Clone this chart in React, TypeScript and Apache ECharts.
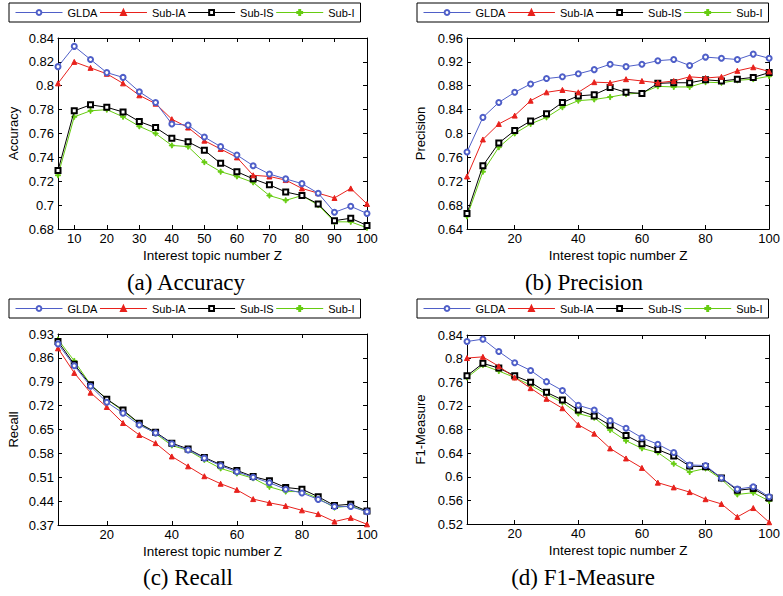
import React, { useEffect, useRef } from "react";
import * as echarts from "echarts";

const topicZ = [5, 10, 15, 20, 25, 30, 35, 40, 45, 50, 55, 60, 65, 70, 75, 80, 85, 90, 95, 100];
const methods = ["GLDA", "Sub-IA", "Sub-IS", "Sub-I"];

// (a) Accuracy
const accGLDA = [0.816, 0.833, 0.822, 0.811, 0.807, 0.795, 0.786, 0.768, 0.767, 0.757, 0.749, 0.742, 0.733, 0.726, 0.722, 0.718, 0.710, 0.694, 0.699, 0.693];
const accSubIA = [0.802, 0.820, 0.815, 0.810, 0.802, 0.792, 0.785, 0.772, 0.765, 0.754, 0.747, 0.740, 0.725, 0.724, 0.721, 0.714, 0.710, 0.706, 0.714, 0.701];
const accSubIS = [0.729, 0.779, 0.784, 0.782, 0.778, 0.770, 0.765, 0.756, 0.753, 0.746, 0.735, 0.728, 0.722, 0.717, 0.711, 0.708, 0.701, 0.687, 0.689, 0.683];
const accSubI = [0.725, 0.774, 0.779, 0.780, 0.774, 0.766, 0.760, 0.750, 0.749, 0.736, 0.728, 0.724, 0.719, 0.708, 0.704, 0.708, 0.700, 0.686, 0.686, 0.681];

// (b) Precision
const preGLDA = [0.769, 0.827, 0.852, 0.869, 0.883, 0.892, 0.895, 0.900, 0.907, 0.916, 0.912, 0.916, 0.922, 0.924, 0.914, 0.928, 0.926, 0.924, 0.933, 0.926];
const preSubIA = [0.728, 0.790, 0.816, 0.830, 0.855, 0.869, 0.873, 0.869, 0.886, 0.885, 0.891, 0.888, 0.885, 0.888, 0.895, 0.893, 0.895, 0.905, 0.911, 0.904];
const preSubIS = [0.666, 0.746, 0.784, 0.805, 0.821, 0.833, 0.852, 0.863, 0.865, 0.877, 0.869, 0.867, 0.884, 0.885, 0.885, 0.890, 0.888, 0.891, 0.894, 0.902];
const preSubI = [0.661, 0.736, 0.777, 0.800, 0.816, 0.827, 0.844, 0.855, 0.857, 0.861, 0.866, 0.868, 0.879, 0.878, 0.878, 0.886, 0.885, 0.889, 0.891, 0.896];

// (c) Recall
const recGLDA = [0.901, 0.837, 0.777, 0.730, 0.698, 0.663, 0.640, 0.608, 0.590, 0.566, 0.544, 0.526, 0.510, 0.494, 0.475, 0.464, 0.445, 0.424, 0.424, 0.409];
const recSubIA = [0.888, 0.816, 0.758, 0.716, 0.669, 0.634, 0.610, 0.571, 0.542, 0.513, 0.491, 0.473, 0.446, 0.435, 0.426, 0.413, 0.402, 0.380, 0.391, 0.372];
const recSubIS = [0.908, 0.841, 0.781, 0.739, 0.707, 0.668, 0.642, 0.610, 0.593, 0.568, 0.547, 0.530, 0.512, 0.500, 0.480, 0.475, 0.453, 0.427, 0.431, 0.411];
const recSubI = [0.914, 0.851, 0.782, 0.739, 0.704, 0.667, 0.638, 0.603, 0.589, 0.561, 0.536, 0.521, 0.507, 0.482, 0.468, 0.468, 0.448, 0.421, 0.426, 0.409];

// (d) F1-Measure
const f1GLDA = [0.829, 0.833, 0.812, 0.793, 0.780, 0.761, 0.746, 0.721, 0.713, 0.695, 0.682, 0.666, 0.655, 0.641, 0.620, 0.619, 0.598, 0.579, 0.583, 0.566];
const f1SubIA = [0.801, 0.803, 0.787, 0.768, 0.750, 0.732, 0.716, 0.688, 0.673, 0.648, 0.631, 0.615, 0.590, 0.582, 0.574, 0.562, 0.554, 0.532, 0.547, 0.523];
const f1SubIS = [0.771, 0.792, 0.784, 0.771, 0.760, 0.743, 0.730, 0.713, 0.703, 0.687, 0.670, 0.656, 0.646, 0.635, 0.618, 0.617, 0.598, 0.577, 0.580, 0.564];
const f1SubI = [0.768, 0.789, 0.779, 0.768, 0.755, 0.740, 0.726, 0.707, 0.700, 0.679, 0.661, 0.648, 0.641, 0.622, 0.608, 0.614, 0.596, 0.570, 0.573, 0.559];

const accTicksY = [0.68, 0.7, 0.72, 0.74, 0.76, 0.78, 0.8, 0.82, 0.84];
const preTicksY = [0.64, 0.68, 0.72, 0.76, 0.8, 0.84, 0.88, 0.92, 0.96];
const recTicksY = [0.37, 0.44, 0.51, 0.58, 0.65, 0.72, 0.79, 0.86, 0.93];
const f1TicksY = [0.52, 0.56, 0.6, 0.64, 0.68, 0.72, 0.76, 0.8, 0.84];
const ticksX10 = [10, 20, 30, 40, 50, 60, 70, 80, 90, 100];
const ticksX20 = [20, 40, 60, 80, 100];

const xName = "Interest topic number Z";
const captions = ["(a) Accuracy", "(b) Precision", "(c) Recall", "(d) F1-Measure"];
const yNames = ["Accuracy", "Precision", "Recall", "F1-Measure"];

const COLORS = ["#4f5fc8", "#e8211c", "#000000", "#66cc11"];
const SYMBOLS = ["emptyCircle", "triangle", "emptyRect", "path://M4,0H6V4H10V6H6V10H4V6H0V4H4Z"];
const SIZES = [5, 5, 5, 5];
const FONT = "'Liberation Sans', Arial, sans-serif";

const panels = [
  { series: [accGLDA, accSubIA, accSubIS, accSubI], yTicks: accTicksY, xTicks: ticksX10,
    grid: { left: 58, top: 38, width: 309, height: 191 }, legend: { left: 9, top: 3 }, nameGap: 38, cap: { x: 186, y: 282 } },
  { series: [preGLDA, preSubIA, preSubIS, preSubI], yTicks: preTicksY, xTicks: ticksX20,
    grid: { left: 467, top: 38, width: 305, height: 191 }, legend: { left: 417, top: 3 }, nameGap: 40, cap: { x: 584, y: 282 } },
  { series: [recGLDA, recSubIA, recSubIS, recSubI], yTicks: recTicksY, xTicks: ticksX20,
    grid: { left: 58, top: 334, width: 309, height: 191 }, legend: { left: 9, top: 299 }, nameGap: 38, cap: { x: 188, y: 577 } },
  { series: [f1GLDA, f1SubIA, f1SubIS, f1SubI], yTicks: f1TicksY, xTicks: ticksX20,
    grid: { left: 467, top: 335, width: 305, height: 189 }, legend: { left: 417, top: 299 }, nameGap: 40, cap: { x: 583, y: 577 } },
];

export default function App() {
  const ref = useRef<HTMLDivElement>(null);
  useEffect(() => {
    if (!ref.current) return;
    const chart = echarts.init(ref.current, null, { renderer: "svg" });
    const grids: any[] = [];
    const xAxes: any[] = [];
    const yAxes: any[] = [];
    const legends: any[] = [];
    const series: any[] = [];
    const graphics: any[] = [];
    const axisLine = { show: true, onZero: false, lineStyle: { color: "#000", width: 1 } };
    panels.forEach((p, pi) => {
      grids.push({ ...p.grid, containLabel: false });
      const ymin = p.yTicks[0];
      const ymax = p.yTicks[p.yTicks.length - 1];
      xAxes.push({
        type: "value", gridIndex: pi, min: 5, max: 100, position: "bottom",
        axisLine, splitLine: { show: false },
        axisTick: { show: true, inside: true, length: 4, customValues: p.xTicks, lineStyle: { color: "#000" } },
        axisLabel: { show: true, customValues: p.xTicks, color: "#000", fontSize: 13, fontFamily: FONT, margin: 3 },
        name: xName, nameLocation: "middle", nameGap: 19,
        nameTextStyle: { color: "#000", fontSize: 13.5, fontFamily: FONT },
      });
      xAxes.push({
        type: "value", gridIndex: pi, min: 5, max: 100, position: "top",
        axisLine, splitLine: { show: false },
        axisTick: { show: true, inside: true, length: 4, customValues: p.xTicks, lineStyle: { color: "#000" } },
        axisLabel: { show: false },
      });
      yAxes.push({
        type: "value", gridIndex: pi, min: ymin, max: ymax, position: "left",
        axisLine, splitLine: { show: false },
        axisTick: { show: true, inside: true, length: 4, customValues: p.yTicks, lineStyle: { color: "#000" } },
        axisLabel: { show: true, customValues: p.yTicks, color: "#000", fontSize: 13, fontFamily: FONT, margin: 4 },
        name: yNames[pi], nameLocation: "middle", nameGap: p.nameGap,
        nameTextStyle: { color: "#000", fontSize: 13, fontFamily: FONT },
      });
      yAxes.push({
        type: "value", gridIndex: pi, min: ymin, max: ymax, position: "right",
        axisLine, splitLine: { show: false },
        axisTick: { show: true, inside: true, length: 4, customValues: p.yTicks, lineStyle: { color: "#000" } },
        axisLabel: { show: false },
      });
      legends.push({
        left: p.legend.left, top: p.legend.top, orient: "horizontal",
        data: methods.map((m, mi) => ({ name: m, textStyle: mi < 3 ? { width: 36 } : {} })),
        itemWidth: 47, itemHeight: 6, itemGap: 2,
        padding: [4, 6], borderColor: "#000", borderWidth: 1, backgroundColor: "#fff",
        lineStyle: { width: 1 },
        textStyle: { color: "#000", fontSize: 11, fontFamily: FONT },
      });
      p.series.forEach((vals, mi) => {
        series.push({
          type: "line", name: methods[mi], xAxisIndex: pi * 2, yAxisIndex: pi * 2,
          data: topicZ.map((z, i) => [z, vals[i]]),
          symbol: SYMBOLS[mi], symbolSize: SIZES[mi],
          lineStyle: { color: COLORS[mi], width: 1 },
          itemStyle: { color: COLORS[mi], borderColor: COLORS[mi], borderWidth: 1 },
          z: 10 - mi,
        });
      });
      graphics.push({
        type: "text", x: p.cap.x, y: p.cap.y,
        style: {
          text: captions[pi], fill: "#000", fontSize: 23,
          fontFamily: "'Liberation Serif', 'Times New Roman', serif",
          textAlign: "center", textVerticalAlign: "middle",
        },
      });
    });
    chart.setOption({
      animation: false,
      backgroundColor: "#fff",
      grid: grids,
      xAxis: xAxes,
      yAxis: yAxes,
      legend: legends,
      series,
      graphic: graphics,
    });
    return () => chart.dispose();
  }, []);
  return <div ref={ref} style={{ position: "absolute", left: 0, top: 0, width: 783, height: 596 }} />;
}
